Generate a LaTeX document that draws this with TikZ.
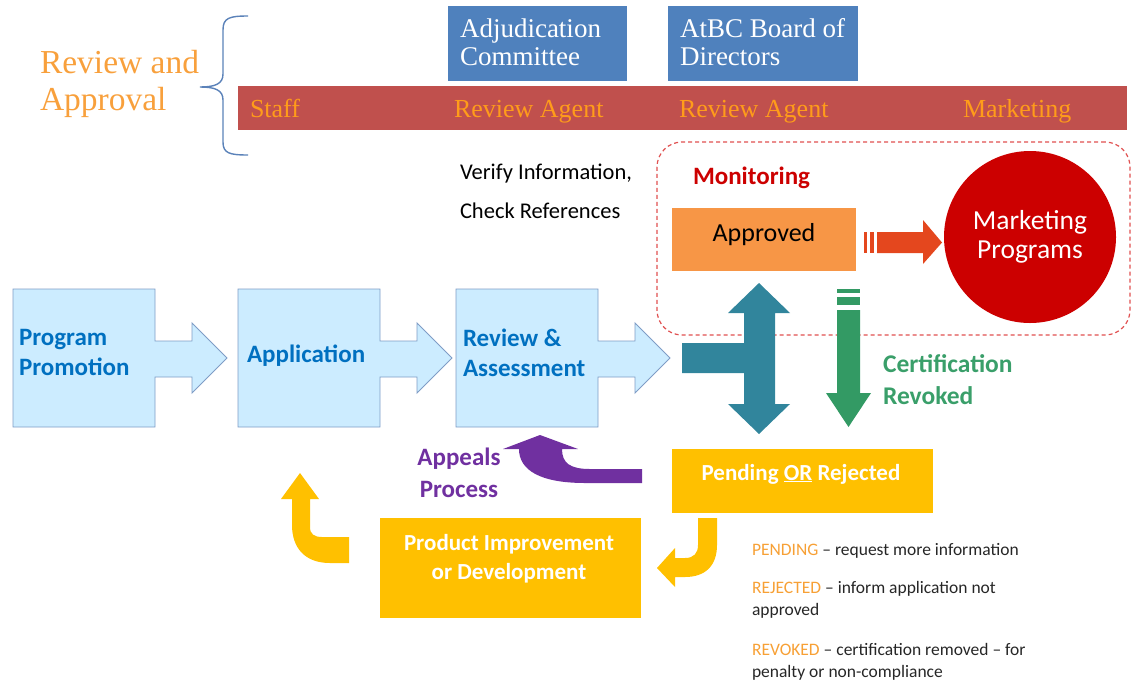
\documentclass[tikz,border=0pt]{standalone}
\usepackage{fontspec}
\setmainfont{Liberation Serif}
\newfontfamily\calibri{Carlito}
\usetikzlibrary{backgrounds}

\definecolor{headorange}{HTML}{F8A03C}
\definecolor{barorange}{HTML}{FF9C1A}
\definecolor{barred}{HTML}{C0504D}
\definecolor{boardblue}{HTML}{4F81BD}
\definecolor{bracecol}{HTML}{5B82B9}
\definecolor{monred}{HTML}{CC0000}
\definecolor{dashred}{HTML}{E05050}
\definecolor{apporange}{HTML}{F79646}
\definecolor{arrowred}{HTML}{E4471E}
\definecolor{tealcol}{HTML}{31859C}
\definecolor{greencol}{HTML}{339A64}
\definecolor{certgreen}{HTML}{3A9F6A}
\definecolor{procfill}{HTML}{CCECFF}
\definecolor{procline}{HTML}{7F9DC6}
\definecolor{procblue}{HTML}{0070C0}
\definecolor{goldcol}{HTML}{FFC000}
\definecolor{purplecol}{HTML}{7030A0}
\definecolor{legorange}{HTML}{F7A035}
\definecolor{legtext}{HTML}{262626}

\newcommand\setfs[2]{\fontsize{#1}{#2}\selectfont}

\begin{document}
\begin{tikzpicture}[x=1pt, y=-1pt,
  every node/.style={inner sep=0pt, outer sep=0pt},
  blockbox/.style={rectangle, anchor=north west},
  serifhead/.style={font=\setfs{33.5}{37}, text=headorange, align=left},
  bartext/.style={font=\setfs{26}{28}, text=barorange, anchor=base west},
  boardtext/.style={font=\setfs{27}{28}, text=white, align=left, anchor=west},
  proctext/.style={font=\calibri\bfseries\setfs{25}{30}, text=procblue, align=left},
  procshape/.style={fill=procfill, draw=procline, line width=0.9pt, line join=miter},
  goldtext/.style={font=\calibri\bfseries\setfs{23}{29}, text=white, align=center},
  legend/.style={font=\calibri\setfs{17.5}{22}, text=legtext, align=left, anchor=west},
  bracestyle/.style={draw=bracecol, line width=1.4pt},
  monitorline/.style={draw=dashred, line width=1.2pt, dash pattern=on 4pt off 3pt, rounded corners=25pt}
]
\useasboundingbox (0,0) rectangle (1131,681);

% ---- review and approval header ----
\node[serifhead, anchor=west] (rahead) at (40,84) {Review and\\Approval};
\draw[bracestyle] (248,16) .. controls (229,16) and (223,18) .. (223,30) -- (223,74)
  .. controls (223,84) and (215,87) .. (200,87)
  .. controls (215,87) and (223,90) .. (223,100) -- (223,142)
  .. controls (223,153) and (229,155) .. (248,155);

\node[blockbox, fill=barred, minimum width=889pt, minimum height=44pt] (bar) at (238,86) {};
\node[bartext] (staff) at (250,117) {Staff};
\node[bartext] (agent1) at (454,117) {Review Agent};
\node[bartext] (agent2) at (679,117) {Review Agent};
\node[bartext] (mktg) at (963,117) {Marketing};

\node[blockbox, fill=boardblue, minimum width=179pt, minimum height=75pt] (adj) at (448,6) {};
\node[boardtext] (adjtxt) at (460,42) {Adjudication\\Committee};
\node[blockbox, fill=boardblue, minimum width=190pt, minimum height=75pt] (board) at (668,6) {};
\node[boardtext] (boardtxt) at (680,42) {AtBC Board of\\Directors};

\node[font=\calibri\setfs{22.5}{39}, text=black, align=left, anchor=west] (verify) at (460,191)
  {Verify Information,\\Check References};

% ---- monitoring region ----
\node[blockbox, monitorline, minimum width=473pt, minimum height=193pt] (monbox) at (657,142) {};
\node[font=\calibri\bfseries\setfs{25}{28}, text=monred, anchor=base west] (monlbl) at (693,184) {Monitoring};

\node[blockbox, fill=apporange, minimum width=184pt, minimum height=63pt] (appr) at (672,208) {};
\node[font=\calibri\setfs{26}{30}, text=black, anchor=base] (apprtxt) at (764,241) {Approved};

\node[circle, fill=monred, minimum size=172pt, font=\calibri\setfs{27.5}{29}, text=white, align=center]
  (mktprog) at (1030,237) {Marketing\\Programs};

% striped arrow towards the marketing programs
\fill[arrowred] (864,232) rectangle (867,253);
\fill[arrowred] (870,232) rectangle (874,253);
\fill[arrowred] (877,232) -- (923,232) -- (923,220) -- (942,242.5) -- (923,264)
  -- (923,253) -- (877,253) -- cycle;

% ---- process chain ----
\foreach \x in {13,238,456} {
  \draw[procshape] (\x,289) -- ++(142,0) -- ++(0,52) -- ++(37,0) -- ++(0,-18)
    -- ++(35,35) -- ++(-35,35) -- ++(0,-16) -- ++(-37,0) -- ++(0,50)
    -- ++(-142,0) -- cycle;
}
\node[proctext, anchor=west] (promo) at (19,352) {Program\\Promotion};
\node[proctext, anchor=base west] (applic) at (247,362) {Application};
\node[proctext, anchor=west] (review) at (463,353) {Review \&\\Assessment};

% decision arrow: approved above, pending or rejected below
\fill[tealcol] (759,283) -- (790,313) -- (775,313) -- (775,404) -- (790,404) -- (759,434)
  -- (728,404) -- (744,404) -- (744,373) -- (682,373) -- (682,343) -- (744,343)
  -- (744,313) -- (728,313) -- cycle;

% certification revoked arrow
\fill[greencol] (837,289) rectangle (860,293);
\fill[greencol] (837,297) rectangle (860,305);
\fill[greencol] (837,310) -- (860,310) -- (860,393) -- (871,393) -- (848.5,427)
  -- (826,393) -- (837,393) -- cycle;
\node[font=\calibri\bfseries\setfs{25.5}{32}, text=certgreen, align=left, anchor=west]
  (revoked) at (883,380) {Certification\\Revoked};

% ---- pending / rejected loop ----
\node[blockbox, fill=goldcol, minimum width=261pt, minimum height=64pt] (pend) at (672,449) {};
\node[goldtext, anchor=base] (pendtxt) at (801,480) {Pending \underline{OR} Rejected};

\node[blockbox, fill=goldcol, minimum width=261pt, minimum height=100pt] (prod) at (380,518) {};
\node[goldtext] (prodtxt) at (509,558.5) {Product Improvement\\or Development};

% appeals arrow back to review
\fill[purplecol] (540,435) -- (578,449) -- (562,449)
  .. controls (562,463) and (570,469) .. (590,469) -- (642,469) -- (642,483) -- (585,483)
  .. controls (540,483) and (519,470) .. (519,449) -- (503,449) -- cycle;
\node[font=\calibri\bfseries\setfs{25}{32}, text=purplecol, align=center] (appeals) at (459,473)
  {Appeals\\Process};

% turn arrow from pending down to product improvement
\fill[goldcol] (698,518) -- (717,518) -- (717,545)
  .. controls (717,566) and (705,577) .. (685,577) -- (675,577) -- (675,587) -- (657,568)
  -- (675,548) -- (675,558) -- (685,558) .. controls (694,558) and (698,553) .. (698,545) -- cycle;

% turn arrow from product improvement back up to the start
\fill[goldcol] (300,473) -- (319,499) -- (310,499) -- (310,527)
  .. controls (310,534) and (314,537) .. (322,537) -- (349,537) -- (349,563) -- (330,563)
  .. controls (305,563) and (292,548) .. (292,525) -- (292,499) -- (281,499) -- cycle;

% ---- legend ----
\node[legend, anchor=base west] (legpend) at (752,555)
  {\textcolor{legorange}{PENDING} – request more information};
\node[legend] (legrej) at (752,599.6)
  {\textcolor{legorange}{REJECTED} – inform application not\\approved};
\node[legend] (legrev) at (752,661.6)
  {\textcolor{legorange}{REVOKED} – certification removed – for\\penalty or non-compliance};
\end{tikzpicture}
\end{document}
